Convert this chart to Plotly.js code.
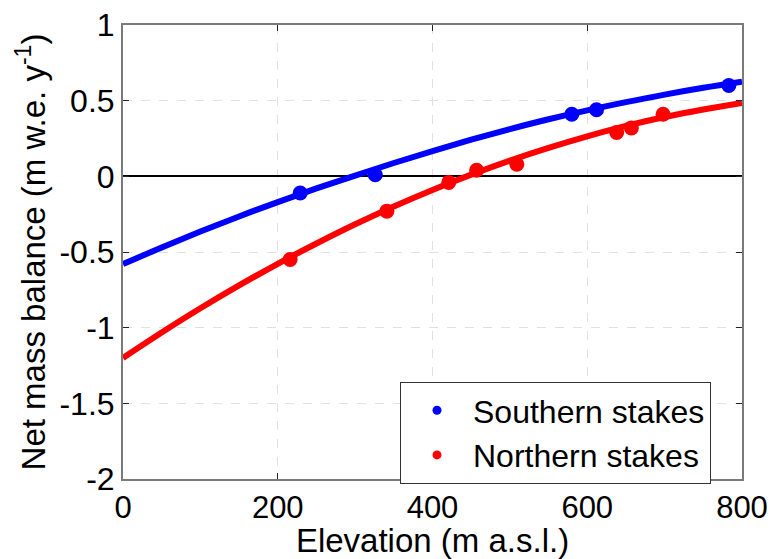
<!DOCTYPE html>
<html>
<head>
<meta charset="utf-8">
<script src="https://cdn.plot.ly/plotly-3.0.1.min.js"></script>
<style>html,body{margin:0;padding:0;background:#fff;}#chart{width:773px;height:559px;}</style>
</head>
<body>
<div id="chart"></div>
<script>
// Stake measurements
const southElev = [229, 326, 580, 612, 783];
const southBal  = [-0.11, 0.01, 0.41, 0.44, 0.60];
const northElev = [216, 341, 421, 457, 509, 638, 657, 698];
const northBal  = [-0.55, -0.23, -0.04, 0.04, 0.08, 0.29, 0.32, 0.41];

// Fitted curves
const fitElev  = [0, 50, 100, 150, 200, 250, 300, 350, 400, 450, 500, 550, 600, 650, 700, 750, 800];
const southFit = [-0.580, -0.470, -0.365, -0.265, -0.170, -0.080, 0.005, 0.088, 0.167, 0.242, 0.312, 0.377, 0.436, 0.490, 0.540, 0.585, 0.625];
const northFit = [-1.200, -1.032, -0.872, -0.721, -0.578, -0.444, -0.317, -0.199, -0.090, 0.011, 0.104, 0.188, 0.264, 0.333, 0.392, 0.442, 0.485];

const xTicks = [0, 200, 400, 600, 800];
const yTicks = [1, 0.5, 0, -0.5, -1, -1.5, -2];

const BLUE = '#0000ff', RED = '#ff0000';
const FONT = 'Liberation Sans, Arial, Helvetica, sans-serif';

const traces = [
  {x: fitElev, y: southFit, mode: 'lines', line: {color: BLUE, width: 6, shape: 'spline'}, showlegend: false, hoverinfo: 'skip'},
  {x: fitElev, y: northFit, mode: 'lines', line: {color: RED, width: 6, shape: 'spline'}, showlegend: false, hoverinfo: 'skip'},
  {x: southElev, y: southBal, mode: 'markers', marker: {color: BLUE, size: 15}, showlegend: false},
  {x: northElev, y: northBal, mode: 'markers', marker: {color: RED, size: 15}, showlegend: false},
  {x: [null], y: [null], mode: 'markers', marker: {color: BLUE, size: 9}, name: 'Southern stakes'},
  {x: [null], y: [null], mode: 'markers', marker: {color: RED, size: 9}, name: 'Northern stakes'}
];

const layout = {
  width: 773, height: 559,
  margin: {l: 123, r: 31, t: 25, b: 80},
  paper_bgcolor: '#fff', plot_bgcolor: '#fff',
  font: {family: FONT, size: 32, color: '#000'},
  showlegend: true,
  legend: {
    x: 0.4475, y: 0.2137, xanchor: 'left', yanchor: 'top',
    bgcolor: '#fff', bordercolor: '#333', borderwidth: 1,
    font: {family: FONT, size: 32, color: '#000'},
    tracegroupgap: 0, itemwidth: 62
  },
  xaxis: {
    range: [0, 800], tickvals: xTicks, ticktext: xTicks.map(String),
    showgrid: true, gridcolor: '#e0e0e0', griddash: 'dash', gridwidth: 1,
    zeroline: false, showline: true, linecolor: '#7a7a7a', linewidth: 2, mirror: 'allticks',
    ticks: 'inside', ticklen: 6, tickcolor: '#222', tickwidth: 1,
    tickfont: {family: FONT, size: 31, color: '#000'},
    title: {text: 'Elevation (m a.s.l.)', font: {family: FONT, size: 33, color: '#000'}, standoff: 3},
    automargin: false
  },
  yaxis: {
    range: [-2, 1], tickvals: yTicks, ticktext: yTicks.map(v => String(v)),
    showgrid: true, gridcolor: '#e0e0e0', griddash: 'dash', gridwidth: 1,
    zeroline: true, zerolinecolor: '#000', zerolinewidth: 2,
    showline: true, linecolor: '#7a7a7a', linewidth: 2, mirror: 'allticks',
    ticks: 'inside', ticklen: 6, tickcolor: '#222', tickwidth: 1,
    tickfont: {family: FONT, size: 32, color: '#000'},
    title: {text: 'Net mass balance (m w.e. y<sup>-1</sup>)', font: {family: FONT, size: 33, color: '#000'}, standoff: 4},
    automargin: false
  }
};

Plotly.newPlot('chart', traces, layout, {displayModeBar: false, staticPlot: true});
</script>
</body>
</html>
